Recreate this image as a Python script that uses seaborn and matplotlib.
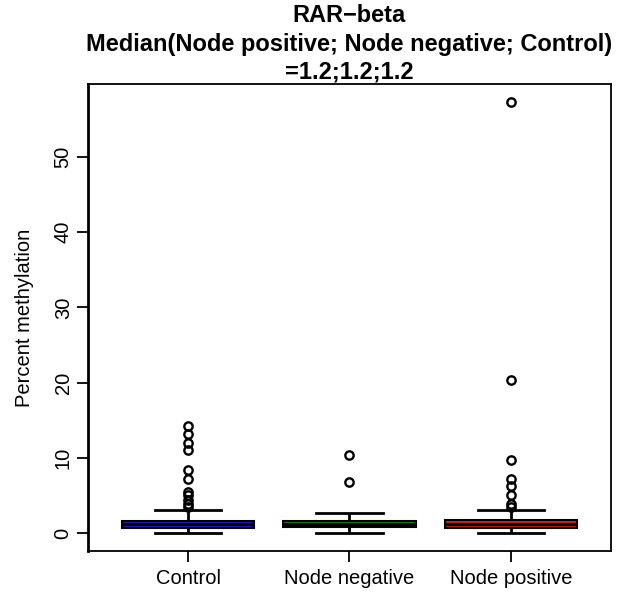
import pandas as pd
import numpy as np
import matplotlib.pyplot as plt
import seaborn as sns

# Percent methylation values per group
control = [0.0, 0.1, 0.2, 0.3, 0.3, 0.4, 0.4, 0.4, 0.5, 0.5, 0.5, 0.5,
           0.6, 0.6, 0.6, 0.6, 0.7, 0.7, 0.8, 0.8, 0.9, 0.9, 1.0, 1.0,
           1.0, 1.1, 1.1, 1.1, 1.2, 1.2, 1.2, 1.2, 1.3, 1.3, 1.3, 1.4,
           1.4, 1.4, 1.5, 1.5, 1.5, 1.5, 1.6, 1.6, 1.6, 1.6, 1.8, 2.1,
           3.0, 3.4, 3.9, 4.4, 5.0, 5.5, 7.2, 8.4, 11.0, 12.0, 13.1, 14.2]
node_negative = [0.0, 0.3, 0.5, 0.6, 0.7, 0.7, 0.8, 0.8, 0.8, 0.9,
                 1.0, 1.0, 1.1, 1.1, 1.2, 1.2, 1.3, 1.3, 1.4, 1.4,
                 1.5, 1.6, 1.6, 1.8, 2.0, 2.3, 2.5, 2.7, 6.8, 10.3]
node_positive = [0.0, 0.2, 0.3, 0.4, 0.4, 0.5, 0.5, 0.5, 0.6, 0.6,
                 0.6, 0.7, 0.8, 0.9, 0.9, 1.0, 1.0, 1.1, 1.1, 1.2,
                 1.2, 1.3, 1.3, 1.4, 1.4, 1.5, 1.5, 1.6, 1.6, 1.7,
                 1.7, 3.0, 3.5, 3.8, 5.1, 6.2, 7.2, 9.7, 20.3, 57.3]

groups = ['Control', 'Node negative', 'Node positive']
colors = ['#0000ff', '#00b000', '#ff0000']
y_ticks = [0, 10, 20, 30, 40, 50]

df = pd.DataFrame({
    'group': ['Control'] * len(control) + ['Node negative'] * len(node_negative)
             + ['Node positive'] * len(node_positive),
    'value': control + node_negative + node_positive,
})

plt.rcParams['font.family'] = ['Liberation Sans', 'DejaVu Sans']

fig = plt.figure(figsize=(6.22, 5.94), dpi=100)
ax = fig.add_axes([0.1415, 0.0724, 0.8406, 0.7862])

sns.boxplot(data=df, x='group', y='value', hue='group', order=groups,
            hue_order=groups, palette=colors, legend=False, width=0.82,
            linecolor='black', linewidth=1.5, whis=1.5, fliersize=6,
            flierprops=dict(marker='o', markerfacecolor='none',
                            markeredgecolor='black', markeredgewidth=1.7),
            whiskerprops=dict(linewidth=2),
            capprops=dict(linewidth=2),
            medianprops=dict(color='black', linewidth=2.4),
            ax=ax)

ax.set_xlim(0.38 - 1, 3.62 - 1)
ax.set_ylim(-2.4, 59.7)
ax.set_yticks(y_ticks)
ax.set_yticklabels([str(t) for t in y_ticks], rotation=90, va='center')
ax.tick_params(axis='both', direction='out', length=8, width=1.3,
               labelsize=14.5, colors='black')
ax.tick_params(axis='y', pad=3)
ax.tick_params(axis='x', pad=5)
ax.set_xlabel('')
ax.set_ylabel('Percent methylation', fontsize=14.5, labelpad=14)

for side, sp in ax.spines.items():
    sp.set_visible(True)
    sp.set_color('black')
    sp.set_linewidth(1.3)
ax.spines['left'].set_linewidth(2)

ax.set_title('RAR\u2212beta\nMedian(Node positive; Node negative; Control)\n=1.2;1.2;1.2',
             fontsize=17, fontweight='bold', pad=1, linespacing=1.3)

fig.savefig('out.png', dpi=100)
